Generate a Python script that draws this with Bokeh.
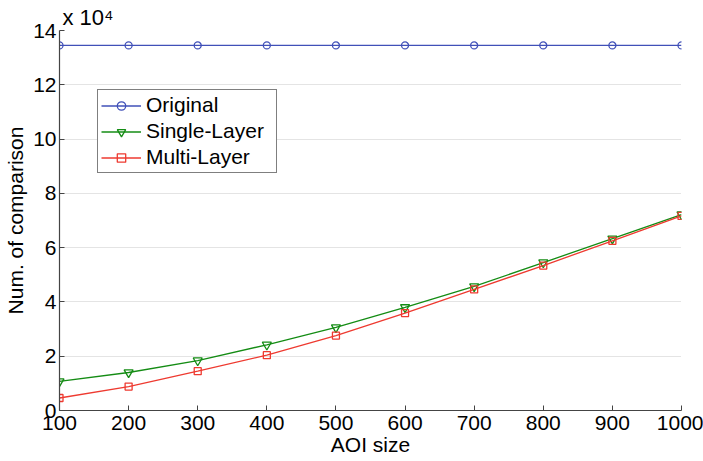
from bokeh.plotting import figure
from bokeh.models import Legend, LegendItem, FixedTicker, Title
from bokeh.embed import file_html
from bokeh.resources import INLINE

aoi_size = [100, 200, 300, 400, 500, 600, 700, 800, 900, 1000]
original = [13.45, 13.45, 13.45, 13.45, 13.45, 13.45, 13.45, 13.45, 13.45, 13.45]
single_layer = [1.07, 1.40, 1.84, 2.42, 3.06, 3.80, 4.57, 5.45, 6.33, 7.22]
multi_layer = [0.46, 0.88, 1.45, 2.04, 2.76, 3.59, 4.46, 5.34, 6.25, 7.17]
y_ticks = [0, 2, 4, 6, 8, 10, 12, 14]

FONT = "Liberation Sans"
BLUE = "#4050B8"
GREEN = "#148C14"
RED = "#EE3A30"

p = figure(width=703, height=461, output_backend="svg", toolbar_location=None,
           x_range=(100, 1000), y_range=(0, 14),
           min_border_left=59, min_border_right=22, min_border_top=30, min_border_bottom=51)
p.outline_line_color = None
p.background_fill_color = "white"

p.xgrid.grid_line_color = None
p.ygrid.grid_line_color = "#C8C8C8"
p.ygrid.grid_line_dash = "1 1"
p.ygrid.grid_line_width = 1

for ax in (p.xaxis[0], p.yaxis[0]):
    ax.axis_line_color = "#444444"
    ax.axis_line_width = 1.2
    ax.major_tick_line_color = "#444444"
    ax.major_tick_in = 5
    ax.major_tick_out = 0
    ax.minor_tick_line_color = None
    ax.major_label_text_font = FONT
    ax.major_label_text_font_size = "21px"
    ax.major_label_text_color = "black"
    ax.axis_label_text_font = FONT
    ax.axis_label_text_font_size = "21px"
    ax.axis_label_text_font_style = "normal"
    ax.axis_label_text_color = "black"

p.xaxis.ticker = FixedTicker(ticks=aoi_size)
p.yaxis.ticker = FixedTicker(ticks=y_ticks)
p.xaxis.axis_label = "AOI size"
p.yaxis.axis_label = "Num. of comparison"
p.xaxis.major_label_standoff = 5
p.xaxis.axis_label_standoff = 0
p.yaxis.major_label_standoff = 3
p.yaxis.axis_label_standoff = 3

l1 = p.line(aoi_size, original, line_color=BLUE, line_width=1.3)
m1 = p.scatter(aoi_size, original, marker="circle", size=7, fill_color=None, line_color=BLUE, line_width=1.3)
l2 = p.line(aoi_size, single_layer, line_color=GREEN, line_width=1.3)
m2 = p.scatter(aoi_size, single_layer, marker="inverted_triangle", size=9, fill_color=None, line_color=GREEN, line_width=1.3)
l3 = p.line(aoi_size, multi_layer, line_color=RED, line_width=1.3)
m3 = p.scatter(aoi_size, multi_layer, marker="square", size=7, fill_color=None, line_color=RED, line_width=1.3)

legend = Legend(items=[
    LegendItem(label="Original", renderers=[l1, m1]),
    LegendItem(label="Single-Layer", renderers=[l2, m2]),
    LegendItem(label="Multi-Layer", renderers=[l3, m3]),
], location=(38, 237))
legend.label_text_font = FONT
legend.label_text_font_size = "21px"
legend.label_text_color = "black"
legend.border_line_color = "black"
legend.border_line_width = 1
legend.background_fill_alpha = 1
legend.glyph_width = 40
legend.glyph_height = 21
legend.label_height = 21
legend.label_width = 127
legend.spacing = 2
legend.padding = 3
legend.margin = 0
legend.label_standoff = 5
p.add_layout(legend)

p.add_layout(Title(text="x 10\u2074", align="left", offset=3, standoff=2,
                   text_font=FONT, text_font_size="22px", text_font_style="normal",
                   text_color="black"), "above")

open("out.html", "w").write(file_html(p, INLINE))
